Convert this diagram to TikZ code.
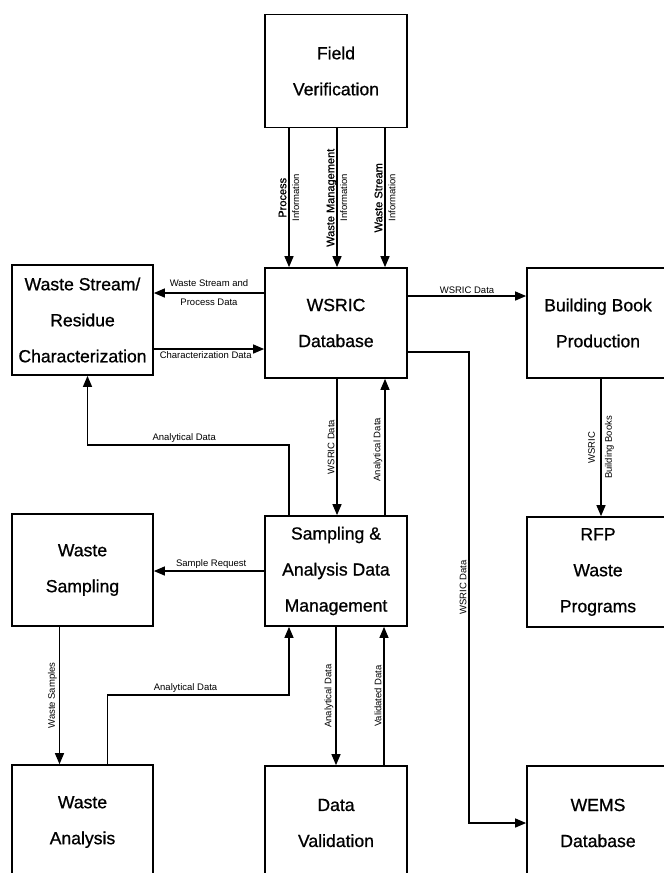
\documentclass[tikz,border=0pt]{standalone}
\usepackage{fontspec}
\setmainfont{Liberation Sans}
\newfontfamily\boxfont[FakeBold=0.8]{Liberation Sans}
\usetikzlibrary{arrows.meta}
\begin{document}
\begin{tikzpicture}[x=1pt,y=-1pt,
  box/.style={draw, line width=1.7pt, minimum width=142pt, minimum height=110pt,
    align=center, inner sep=0pt, font=\boxfont\fontsize{17.6}{36}\selectfont},
  arr/.style={line width=1.3pt, -{Triangle[length=11pt,width=9pt]}},
  lab/.style={font=\fontsize{9.5}{12}\selectfont, inner sep=2pt},
  lab2/.style={font=\fontsize{9.5}{13}\selectfont, inner sep=0pt, align=center},
  lab3/.style={font=\fontsize{9.5}{19}\selectfont, inner sep=0pt, align=center},
]
\useasboundingbox[fill=white] (0,0) rectangle (664,873);

% boxes
\node[box, minimum height=113pt] (fv) at (336,71) {Field\\Verification};
\node[box] (wsric) at (336,323) {WSRIC\\Database};
\node[box, minimum width=141pt] (wsc) at (82.5,320) {Waste Stream/\\Residue\\Characterization};
\node[box] (bbp) at (598,323) {Building Book\\Production};
\node[box] (sam) at (336,571) {Sampling \&\\Analysis Data\\Management};
\node[box, minimum width=141pt, minimum height=112pt] (ws) at (82.5,570) {Waste\\Sampling};
\node[box] (rfp) at (598,572) {RFP\\Waste\\Programs};
\node[box, minimum width=141pt, minimum height=114pt] (wa) at (82.5,822) {Waste\\Analysis};
\node[box, minimum height=114pt] (dv) at (336,823) {Data\\Validation};
\node[box, minimum height=114pt] (wems) at (598,823) {WEMS\\Database};

% helper coordinates
\coordinate (bendx) at (469,0);
\coordinate (ay) at (0,445);
\coordinate (by) at (0,695);

% Field verification -> WSRIC
\draw[arr] ([xshift=-47pt]fv.south) -- node[lab2, rotate=90]{{\boxfont\fontsize{11}{13}\selectfont Process}\\Information} ([xshift=-47pt]wsric.north);
\draw[arr] ([xshift=1pt]fv.south) -- node[lab2, rotate=90]{{\boxfont\fontsize{11}{13}\selectfont Waste Management}\\Information} ([xshift=1pt]wsric.north);
\draw[arr] ([xshift=49pt]fv.south) -- node[lab2, rotate=90]{{\boxfont\fontsize{11}{13}\selectfont Waste Stream}\\Information} ([xshift=49pt]wsric.north);

% WSRIC <-> Waste Stream
\draw[arr] ([yshift=30pt]wsric.west) -- node[lab3]{Waste Stream and\\Process Data} ([yshift=30pt]wsric.west -| wsc.east);
\draw[arr] ([yshift=-26pt]wsric.west -| wsc.east) -- node[lab, below, pos=0.47]{Characterization Data} ([yshift=-26pt]wsric.west);

% WSRIC -> Building Book
\draw[arr] ([yshift=27pt]wsric.east) -- node[lab, above]{WSRIC Data} ([yshift=27pt]wsric.east -| bbp.west);

% Building Book -> RFP
\draw[arr] ([xshift=3pt]bbp.south) -- node[lab3, rotate=90, font=\fontsize{9.5}{17}\selectfont]{WSRIC\\Building Books} ([xshift=3pt]rfp.north);

% WSRIC -> WEMS
\draw[arr] ([yshift=-29pt]wsric.east) -- ([yshift=-29pt]wsric.east -| bendx)
  -- node[lab, rotate=90, anchor=south, pos=0.5]{WSRIC Data} (bendx |- wems.west) -- (wems.west);

% WSRIC <-> Sampling
\draw[arr] ([xshift=1pt]wsric.south) -- node[lab, rotate=90, anchor=south]{WSRIC Data} ([xshift=1pt]sam.north);
\draw[arr] ([xshift=49pt]sam.north) -- node[lab, rotate=90, anchor=south, pos=0.48]{Analytical Data} ([xshift=49pt]wsric.south);

% Sampling -> Waste Stream
\draw[arr] ([xshift=-47pt]sam.north) -- ([xshift=-47pt]sam.north |- ay)
  -- node[lab, above, pos=0.52]{Analytical Data} ([xshift=5pt]wsc.south |- ay) -- ([xshift=5pt]wsc.south);

% Sampling -> Waste Sampling
\draw[arr] (sam.west) -- node[lab, above, pos=0.48]{Sample Request} (sam.west -| ws.east);

% Waste Sampling -> Waste Analysis
\draw[arr] ([xshift=-23pt]ws.south) -- node[lab, rotate=90, anchor=south]{Waste Samples} ([xshift=-23pt]ws.south |- wa.north);

% Waste Analysis -> Sampling
\draw[arr] ([xshift=25pt]wa.north) -- ([xshift=25pt]wa.north |- by)
  -- node[lab, above, pos=0.43]{Analytical Data} ([xshift=-47pt]sam.south |- by) -- ([xshift=-47pt]sam.south);

% Sampling <-> Data Validation
\draw[arr] (sam.south) -- node[lab, rotate=90, anchor=south]{Analytical Data} (dv.north);
\draw[arr] ([xshift=48pt]dv.north) -- node[lab, rotate=90, anchor=south]{Validated Data} ([xshift=48pt]sam.south);
\end{tikzpicture}
\end{document}
